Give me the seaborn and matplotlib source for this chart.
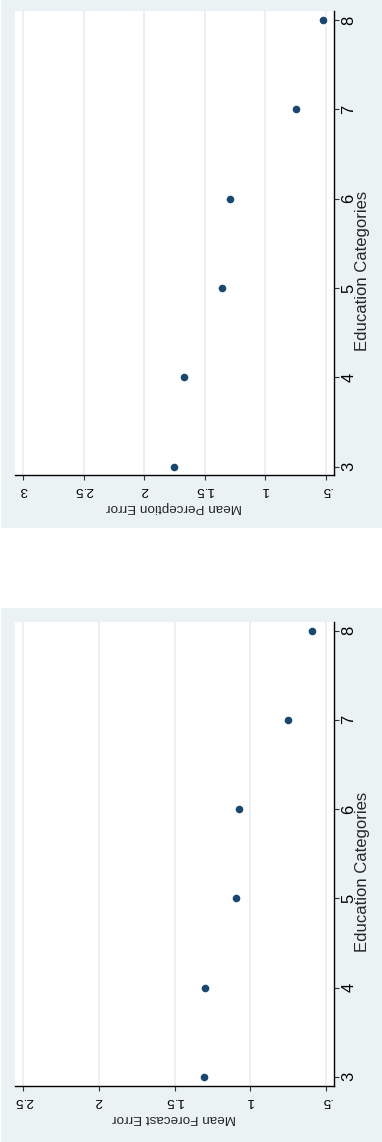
import matplotlib
matplotlib.use("Agg")
import matplotlib.pyplot as plt
from matplotlib.patches import Rectangle
import seaborn as sns
import pandas as pd

# Education categories shown on the vertical axis
education = [3, 4, 5, 6, 7, 8]

# Mean errors per education category
perception_error = [1.753, 1.673, 1.361, 1.292, 0.746, 0.525]
forecast_error = [1.307, 1.298, 1.091, 1.073, 0.751, 0.593]

# Value-axis ticks and their labels (Stata style)
perception_ticks = [3, 2.5, 2, 1.5, 1, 0.5]
perception_labels = ["3", "2.5", "2", "1.5", "1", ".5"]
forecast_ticks = [2.5, 2, 1.5, 1, 0.5]
forecast_labels = ["2.5", "2", "1.5", "1", ".5"]

sns.set_theme(style="white")
plt.rcParams["font.family"] = ["Liberation Sans", "DejaVu Sans"]

W, H = 382, 1142
DPI = 100
BG = "#EAF2F3"
NAVY = "#1A476F"
GRID = "#E6EEF0"
FS = 9.7      # value axis text
FS_CAT = 12.0  # category axis text

fig = plt.figure(figsize=(W / DPI, H / DPI), dpi=DPI)
fig.patch.set_facecolor("white")

# graph regions (light blue-grey boxes)
for (x0, y0, x1, y1) in [(1, 0, 382, 528), (1, 608, 382, 1142)]:
    fig.patches.append(Rectangle((x0 / W, 1 - y1 / H), (x1 - x0) / W, (y1 - y0) / H,
                                 transform=fig.transFigure, facecolor=BG,
                                 edgecolor="none", zorder=-10))


def panel(top, bottom, xlim, ylim, values, ticks, labels, xlabel, ylab_y):
    left, right = 15, 334
    ax = fig.add_axes([left / W, 1 - bottom / H, (right - left) / W, (bottom - top) / H])
    ax.set_zorder(1)
    ax.set_facecolor("white")
    df = pd.DataFrame({"value": values, "education": education})
    for t in ticks:
        ax.axvline(t, color=GRID, lw=1.1, zorder=0)
    sns.scatterplot(data=df, x="value", y="education", ax=ax, color=NAVY,
                    s=30, edgecolor=NAVY, linewidth=0, zorder=3)
    ax.set_xlim(*xlim)
    ax.set_ylim(*ylim)
    ax.set_xticks(ticks)
    ax.set_xticklabels(labels, rotation=180, fontsize=FS)
    ax.set_yticks(education)
    ax.set_yticklabels([str(e) for e in education], rotation=90, fontsize=FS_CAT,
                       va="center")
    ax.yaxis.tick_right()
    ax.yaxis.set_label_position("right")
    for s in ["left", "top"]:
        ax.spines[s].set_visible(False)
    for s in ["bottom", "right"]:
        ax.spines[s].set_color("black")
        ax.spines[s].set_linewidth(1.0)
    ax.tick_params(axis="both", direction="out", length=3.4, width=0.8,
                   color="#333333", labelcolor="black", pad=2)
    ax.tick_params(axis="x", bottom=True, pad=3)
    ax.tick_params(axis="y", right=True, left=False, pad=2)
    ax.set_xlabel(xlabel, fontsize=FS, rotation=180, ha="center", va="center")
    ax.xaxis.set_label_coords(0.5, -(32 / (bottom - top)))
    ax.set_ylabel("Education Categories", fontsize=FS_CAT, rotation=90,
                  ha="center", va="center")
    ax.yaxis.set_label_coords((362 - left) / (right - left), ylab_y)
    ax.grid(False)
    return ax


panel(11, 474.7, (3.069, 0.431), (2.91, 8.10), perception_error,
      perception_ticks, perception_labels, "Mean Perception Error", 0.44)
panel(621.7, 1085.7, (2.555, 0.445), (2.90, 8.10), forecast_error,
      forecast_ticks, forecast_labels, "Mean Forecast Error", 0.46)

fig.savefig("out.png", dpi=DPI, facecolor="white")
